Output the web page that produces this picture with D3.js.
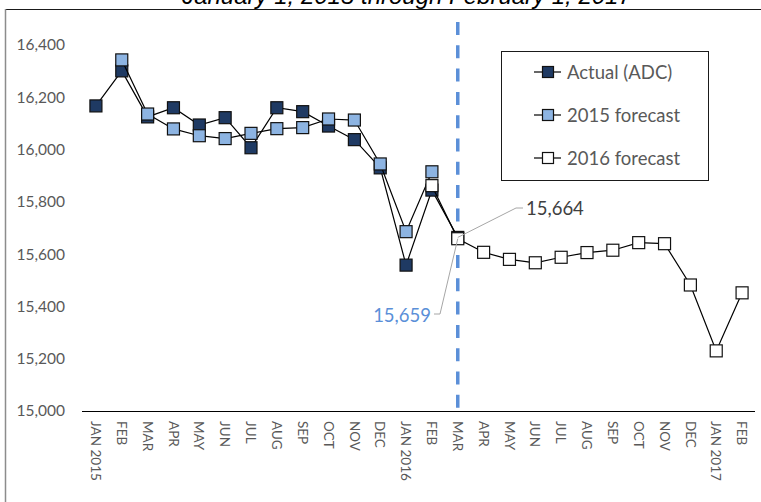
<!DOCTYPE html>
<html>
<head>
	<meta charset="utf-8">
	<script src="https://cdnjs.cloudflare.com/ajax/libs/d3/7.8.5/d3.min.js"></script>
	<style>
		body { margin: 0; background: #fff; }
		svg { display: block; }
		.axis text { font-family: Lato, "Open Sans", sans-serif; fill: #595959; }
		.axis path, .axis line { display: none; }
		.legend text { font-family: Lato, "Open Sans", sans-serif; font-size: 18.5px; fill: #595959; }
	</style>
</head>
<body>
	<svg width="761" height="502"></svg>
	<script>
	// categories (month slots) and their axis labels
	const categories = ["2015-01","2015-02","2015-03","2015-04","2015-05","2015-06","2015-07","2015-08","2015-09","2015-10","2015-11","2015-12",
		"2016-01","2016-02","2016-03","2016-04","2016-05","2016-06","2016-07","2016-08","2016-09","2016-10","2016-11","2016-12",
		"2017-01","2017-02"];
	const tickLabels = ["JAN 2015","FEB","MAR","APR","MAY","JUN","JUL","AUG","SEP","OCT","NOV","DEC",
		"JAN 2016","FEB","MAR","APR","MAY","JUN","JUL","AUG","SEP","OCT","NOV","DEC",
		"JAN 2017","FEB"];
	const yTicks = [15000, 15200, 15400, 15600, 15800, 16000, 16200, 16400];

	// series values (null = no point)
	const actual = [16167, 16301, 16125, 16160, 16094, 16122, 16007, 16160, 16145, 16090, 16038, 15930,
		15558, 15845, 15664, null, null, null, null, null, null, null, null, null, null, null];
	const forecast2015 = [null, 16343, 16136, 16079, 16053, 16042, 16062, 16080, 16084, 16117, 16113, 15945,
		15686, 15915, null, null, null, null, null, null, null, null, null, null, null, null];
	const forecast2016 = [null, null, null, null, null, null, null, null, null, null, null, null,
		null, 15862, 15659, 15607, 15580, 15567, 15588, 15606, 15615, 15644, 15640, 15482, 15230, 15452];

	const seriesNames = ["Actual (ADC)", "2015 forecast", "2016 forecast"];
	const seriesFills = ["#1f3a63", "#8db4e2", "#ffffff"];
	const seriesData = [actual, forecast2015, forecast2016];

	const forecastStart = "2016-03";
	const annotations = [
		{cat: "2016-03", value: 15664, label: "15,664", color: "#404040"},
		{cat: "2016-03", value: 15659, label: "15,659", color: "#5b8fd8"}
	];

	let svg = d3.select("svg");

	//title, mostly cut off at the top
	svg.append("text")
		.attr("x", 407)
		.attr("y", 4)
		.attr("text-anchor", "middle")
		.style("font-family", "'Liberation Sans', Arial, sans-serif")
		.style("font-style", "italic")
		.style("font-size", "24px")
		.style("fill", "#000")
		.text("January 1, 2015 through February 1, 2017");

	//chart frame
	svg.append("line").attr("x1", 5).attr("x2", 761).attr("y1", 9.5).attr("y2", 9.5)
		.style("stroke", "#1a1a1a").style("stroke-width", 1);
	svg.append("line").attr("x1", 5.5).attr("x2", 5.5).attr("y1", 9).attr("y2", 502)
		.style("stroke", "#8c8c8c").style("stroke-width", 1.5);

	//scales
	let x = d3.scaleBand().domain(categories).range([83, 755]),
		y = d3.scaleLinear().domain([15000, 16400]).range([411, 45]);
	const cx = function(c) { return x(c) + x.bandwidth() / 2; };

	//y axis labels
	svg.append("g")
		.attr("class", "axis")
		.attr("transform", "translate(72,0)")
		.call(d3.axisLeft(y).tickValues(yTicks).tickSize(0).tickPadding(7).tickFormat(d3.format(",")))
		.selectAll("text")
		.style("font-size", "15.5px");

	//x axis
	let xAxis = svg.append("g")
		.attr("class", "axis")
		.attr("transform", "translate(0,411)")
		.call(d3.axisBottom(x).tickSize(0).tickFormat(function(d, i) { return tickLabels[i]; }));
	xAxis.selectAll("text")
		.attr("transform", "rotate(90)")
		.attr("x", 10)
		.attr("y", 0)
		.attr("dy", "0.36em")
		.attr("text-anchor", "start")
		.style("font-size", "13.5px");
	svg.append("line")
		.attr("x1", x.range()[0] - 1).attr("x2", x.range()[1])
		.attr("y1", 411.5).attr("y2", 411.5)
		.style("stroke", "#000").style("stroke-width", 1.2);

	//dashed divider at the forecast start
	svg.append("line")
		.attr("x1", cx(forecastStart)).attr("x2", cx(forecastStart))
		.attr("y1", 22).attr("y2", y(15000))
		.style("stroke", "#5b8fd8")
		.style("stroke-width", 3.5)
		.style("stroke-dasharray", "13,10.3");

	//lines and markers
	let line = d3.line()
		.defined(function(d) { return d != null; })
		.x(function(d, i) { return cx(categories[i]); })
		.y(function(d) { return y(d); });

	const ms = 12;
	seriesData.forEach(function(values, s) {
		svg.append("path")
			.datum(values)
			.attr("d", line)
			.style("fill", "none")
			.style("stroke", "#000")
			.style("stroke-width", 1.2);
		svg.append("g").selectAll("rect")
			.data(values.map(function(v, i) { return {cat: categories[i], value: v}; })
				.filter(function(d) { return d.value != null; }))
			.enter()
			.append("rect")
			.attr("x", function(d) { return cx(d.cat) - ms / 2; })
			.attr("y", function(d) { return y(d.value) - ms / 2; })
			.attr("width", ms)
			.attr("height", ms)
			.style("fill", seriesFills[s])
			.style("stroke", "#111")
			.style("stroke-width", 1.2);
	});

	//annotations with leader lines
	let a0 = annotations[0], a1 = annotations[1];
	svg.append("polyline")
		.attr("points", [[cx(a0.cat), y(a0.value)], [516, 208], [523, 208]].join(" "))
		.style("fill", "none").style("stroke", "#a6a6a6").style("stroke-width", 1);
	svg.append("text")
		.attr("x", 526).attr("y", 208).attr("dy", "0.36em")
		.style("font-family", "Lato, 'Open Sans', sans-serif").style("font-size", "18.5px")
		.style("fill", a0.color)
		.text(a0.label);
	svg.append("polyline")
		.attr("points", [[cx(a1.cat), y(a1.value)], [440, 314], [434, 314]].join(" "))
		.style("fill", "none").style("stroke", "#a6a6a6").style("stroke-width", 1);
	svg.append("text")
		.attr("x", 431).attr("y", 315).attr("dy", "0.36em")
		.attr("text-anchor", "end")
		.style("font-family", "Lato, 'Open Sans', sans-serif").style("font-size", "18.5px")
		.style("fill", a1.color)
		.text(a1.label);

	//legend
	let legend = svg.append("g").attr("class", "legend");
	legend.append("rect")
		.attr("x", 501.5).attr("y", 51.5).attr("width", 207).attr("height", 129)
		.style("fill", "#fff").style("stroke", "#1a1a1a").style("stroke-width", 1);
	seriesNames.forEach(function(name, i) {
		let ly = 72 + i * 43;
		legend.append("line")
			.attr("x1", 534).attr("x2", 561).attr("y1", ly).attr("y2", ly)
			.style("stroke", "#000").style("stroke-width", 1.2);
		legend.append("rect")
			.attr("x", 548 - 5.5).attr("y", ly - 5.5).attr("width", 11).attr("height", 11)
			.style("fill", seriesFills[i]).style("stroke", "#111").style("stroke-width", 1.2);
		legend.append("text")
			.attr("x", 567).attr("y", ly).attr("dy", "0.36em")
			.text(name);
	});
	</script>
</body>
</html>
